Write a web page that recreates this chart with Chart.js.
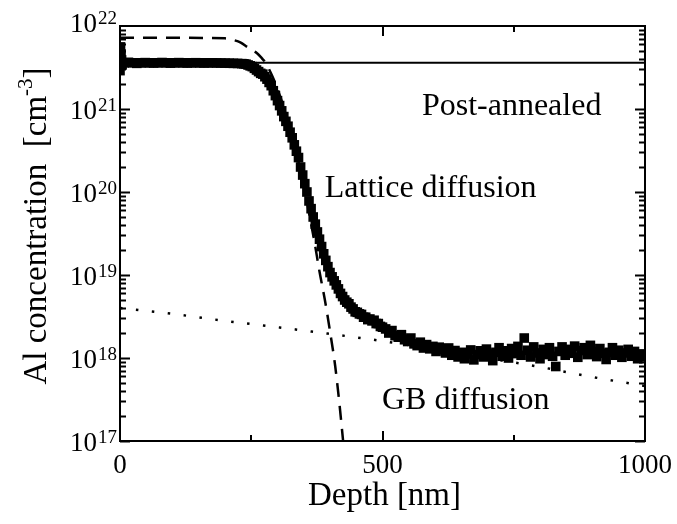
<!DOCTYPE html>
<html>
<head>
<meta charset="utf-8">
<script src="https://cdn.jsdelivr.net/npm/chart.js@4.4.0/dist/chart.umd.min.js"></script>
<style>
  body { margin: 0; background: #fff; }
  #wrap { width: 677px; height: 524px; }
</style>
</head>
<body>
<div id="wrap"><canvas id="sims" width="677" height="524"></canvas></div>
<script>
// measured Al profile (squares)
const depth = [
  0, 1, 2, 3, 4,
  8, 16, 24, 32, 40, 48, 56, 64, 72, 80,
  88, 96, 104, 112, 120, 128, 136, 144, 152, 160,
  168, 176, 184, 192, 200, 208, 216, 224, 232,
  236, 240, 244, 248, 252, 256, 260, 264, 268, 272,
  276, 280, 284, 288, 292, 296, 300, 304, 308, 312,
  316, 320, 324, 328, 332, 336, 340, 344, 348, 352,
  356, 360, 364, 368, 372, 376, 380, 384, 388, 392,
  396, 400, 404, 408, 412, 416, 420, 424, 428, 432,
  436, 440, 444, 448, 452, 456, 460, 464, 468, 472,
  476, 480, 484, 488, 492, 496, 500,
  506, 512, 518, 524, 530, 536, 542, 548, 554, 560,
  566, 572, 578, 584, 590, 596, 602, 608, 614, 620,
  626, 632, 638, 644, 650, 656, 662, 668, 674, 680,
  686, 692, 698, 704, 710, 716, 722, 728, 734, 740,
  746, 752, 758, 764, 770, 776, 782, 788, 794, 800,
  806, 812, 818, 824, 830, 836, 842, 848, 854, 860,
  866, 872, 878, 884, 890, 896, 902, 908, 914, 920,
  926, 932, 938, 944, 950, 956, 962, 968, 974, 980,
  986, 992, 998
];
const alConc = [
  2.9e21, 5.6e21, 4.6e21, 3.9e21, 3.4e21,
  3.6e21, 3.65e21, 3.6e21, 3.55e21, 3.6e21, 3.62e21, 3.6e21, 3.58e21, 3.6e21, 3.63e21,
  3.6e21, 3.57e21, 3.6e21, 3.62e21, 3.6e21, 3.58e21, 3.6e21, 3.61e21, 3.6e21, 3.58e21,
  3.6e21, 3.6e21, 3.59e21, 3.58e21, 3.57e21, 3.56e21, 3.55e21, 3.54e21, 3.52e21,
  3.5e21, 3.47e21, 3.39e21, 3.31e21, 3.24e21, 3.09e21, 2.95e21, 2.82e21, 2.69e21, 2.63e21,
  2.45e21, 2.29e21, 2.09e21, 1.91e21, 1.66e21, 1.45e21, 1.26e21, 1.10e21, 9.5e20, 8.1e20,
  7.1e20, 6.2e20, 5.25e20, 4.5e20, 3.7e20, 3.1e20, 2.6e20, 2.0e20, 1.6e20, 1.26e20,
  1.0e20, 7.8e19, 6.3e19, 5.0e19, 4.1e19, 3.3e19, 2.7e19, 2.2e19, 1.8e19, 1.5e19,
  1.26e19, 1.07e19, 9.5e18, 8.5e18, 7.6e18, 6.8e18, 6.0e18, 5.5e18, 5.0e18, 4.7e18,
  4.5e18, 4.1e18, 3.9e18, 3.6e18, 3.55e18, 3.4e18, 3.35e18, 3.1e18, 3.1e18, 2.9e18,
  2.95e18, 2.8e18, 2.85e18, 2.6e18, 2.6e18, 2.4e18, 2.35e18,
  2.24e18, 2.0e18, 2.14e18, 1.86e18, 1.78e18, 1.91e18, 1.66e18, 1.58e18, 1.74e18, 1.48e18,
  1.41e18, 1.55e18, 1.32e18, 1.45e18, 1.29e18, 1.38e18, 1.2e18, 1.35e18, 1.26e18, 1.15e18,
  1.32e18, 1.08e18, 1.23e18, 1.03e18, 1.17e18, 9.8e17, 1.12e18, 1.25e18, 9.5e17, 1.1e18,
  1.22e18, 1.03e18, 1.28e18, 1.12e18, 9.3e17, 1.17e18, 1.33e18, 1.05e18, 1.22e18, 1.0e18,
  1.3e18, 1.13e18, 1.38e18, 1.08e18, 1.74e18, 1.24e18, 1.03e18, 1.36e18, 1.15e18, 9.8e17,
  1.27e18, 1.1e18, 1.33e18, 1.05e18, 7.9e17, 1.2e18, 1.36e18, 1.08e18, 1.27e18, 1.14e18,
  1.39e18, 1.02e18, 1.23e18, 1.33e18, 1.1e18, 1.42e18, 1.19e18, 1.04e18, 1.3e18, 1.14e18,
  9.6e17, 1.17e18, 1.33e18, 1.08e18, 1.24e18, 1.02e18, 1.15e18, 1.27e18, 1.05e18, 1.2e18,
  9.8e17, 1.12e18, 1.03e18
];

// lattice diffusion fit (dashed)
const latticeDepth = [0, 100, 200, 215, 230, 242, 252, 261, 270, 276, 290, 300, 310, 320, 330,
  340, 350, 360, 370, 380, 390, 400, 410, 418, 425, 430];
const latticeConc = [7.2e21, 7.2e21, 7.1e21, 6.8e21, 6.3e21, 5.6e21, 5.1e21, 4.7e21, 4.1e21, 3.7e21,
  2.5e21, 1.74e21, 1.15e21, 7.2e20, 4.3e20, 2.3e20, 1.2e20, 5.6e19, 2.6e19, 1.1e19,
  5.1e18, 2.1e18, 7.9e17, 2.8e17, 1.0e17, 5.0e16];

// grain boundary diffusion fit (dotted)
const gbDepth = [0, 100, 200, 300, 400, 500, 600, 700, 800, 900, 1000];
const gbConc = [4.0e18, 3.4e18, 2.8e18, 2.35e18, 1.95e18, 1.6e18, 1.27e18, 1.0e18, 7.8e17, 5.9e17, 4.6e17];

// post-annealed level (solid)
const annealDepth = [0, 1000];
const annealConc = [3.6e21, 3.6e21];

const xTickLabels = [0, 500, 1000];
const xMinorTicks = [250, 750];
const yDecades = [17, 18, 19, 20, 21, 22];

const pts = (xs, ys) => xs.map((v, i) => ({ x: v, y: ys[i] }));
const serif = '"Liberation Serif", "Times New Roman", serif';

const axesPlugin = {
  id: 'axesPlugin',
  afterDatasetsDraw(chart) {
    const { ctx, chartArea: a, scales: { x, y } } = chart;
    ctx.save();
    ctx.strokeStyle = '#000';
    ctx.fillStyle = '#000';
    ctx.lineWidth = 2;
    ctx.strokeRect(a.left, a.top, a.right - a.left, a.bottom - a.top);

    // inward ticks
    ctx.beginPath();
    [...xMinorTicks, 500].forEach(v => {
      const px = Math.round(x.getPixelForValue(v));
      const len = v === 500 ? 10 : 6;
      ctx.moveTo(px, a.bottom); ctx.lineTo(px, a.bottom - len);
      ctx.moveTo(px, a.top); ctx.lineTo(px, a.top + len);
    });
    for (let e = 17; e < 22; e++) {
      for (let m = 1; m < 10; m++) {
        const py = Math.round(y.getPixelForValue(m * Math.pow(10, e))) + 0.5;
        const len = m === 1 ? 10 : 6;
        ctx.moveTo(a.left, py); ctx.lineTo(a.left + len, py);
        ctx.moveTo(a.right, py); ctx.lineTo(a.right - len, py);
      }
    }
    ctx.stroke();

    // x tick labels
    ctx.font = '27px ' + serif;
    ctx.textAlign = 'center';
    ctx.textBaseline = 'alphabetic';
    xTickLabels.forEach(v => ctx.fillText(String(v), x.getPixelForValue(v), a.bottom + 32));

    // y tick labels 10^n
    yDecades.forEach(e => {
      const py = y.getPixelForValue(Math.pow(10, e));
      const dy = e === 22 ? 6 : 10;
      ctx.font = '27px ' + serif;
      ctx.textAlign = 'right';
      ctx.fillText('10', a.left - 23, py + dy);
      ctx.font = '19px ' + serif;
      ctx.textAlign = 'left';
      ctx.fillText(String(e), a.left - 22, py + dy - 8);
    });

    // axis titles
    ctx.font = '33px ' + serif;
    ctx.textAlign = 'center';
    ctx.fillText('Depth [nm]', (a.left + a.right) / 2 + 2, 505);

    ctx.save();
    ctx.translate(46, 226);
    ctx.rotate(-Math.PI / 2);
    ctx.textAlign = 'left';
    ctx.font = '33px ' + serif;
    const p1 = 'Al concentration  [cm';
    const p3 = ']';
    const w1 = ctx.measureText(p1).width;
    const w3 = ctx.measureText(p3).width;
    ctx.font = '21px ' + serif;
    const w2 = ctx.measureText('-3').width;
    const start = -(w1 + w2 + w3) / 2;
    ctx.font = '33px ' + serif;
    ctx.fillText(p1, start, 0);
    ctx.fillText(p3, start + w1 + w2, 0);
    ctx.font = '21px ' + serif;
    ctx.fillText('-3', start + w1, -14);
    ctx.restore();

    // annotations
    ctx.font = '32px ' + serif;
    ctx.textAlign = 'left';
    ctx.fillText('Post-annealed', x.getPixelForValue(575), y.getPixelForValue(8.5e20));
    ctx.fillText('Lattice diffusion', x.getPixelForValue(390), y.getPixelForValue(8.7e19));
    ctx.fillText('GB diffusion', x.getPixelForValue(499), y.getPixelForValue(2.43e17));
    ctx.restore();
  }
};

new Chart(document.getElementById('sims'), {
  type: 'scatter',
  data: {
    datasets: [
      {
        label: 'SIMS',
        data: pts(depth, alConc),
        pointStyle: 'rect',
        pointRadius: 6.8,
        pointBorderWidth: 0,
        backgroundColor: '#000',
        clip: 0
      },
      {
        label: 'Post-annealed',
        data: pts(annealDepth, annealConc),
        showLine: true,
        borderColor: '#000',
        borderWidth: 2,
        pointRadius: 0,
        clip: 0
      },
      {
        label: 'Lattice diffusion',
        data: pts(latticeDepth, latticeConc),
        showLine: true,
        borderColor: '#000',
        borderWidth: 2.5,
        borderDash: [14, 9],
        cubicInterpolationMode: 'monotone',
        pointRadius: 0,
        clip: 0
      },
      {
        label: 'GB diffusion',
        data: pts(gbDepth, gbConc),
        showLine: true,
        borderColor: '#000',
        borderWidth: 2.5,
        borderDash: [2.5, 13.5],
        cubicInterpolationMode: 'monotone',
        pointRadius: 0,
        clip: 0
      }
    ]
  },
  options: {
    responsive: false,
    animation: false,
    devicePixelRatio: 1,
    layout: { padding: { left: 120, right: 32, top: 26, bottom: 83 } },
    plugins: { legend: { display: false }, tooltip: { enabled: false } },
    scales: {
      x: { type: 'linear', min: 0, max: 1000, display: false },
      y: { type: 'logarithmic', min: 1e17, max: 1e22, display: false }
    }
  },
  plugins: [axesPlugin]
});
</script>
</body>
</html>
